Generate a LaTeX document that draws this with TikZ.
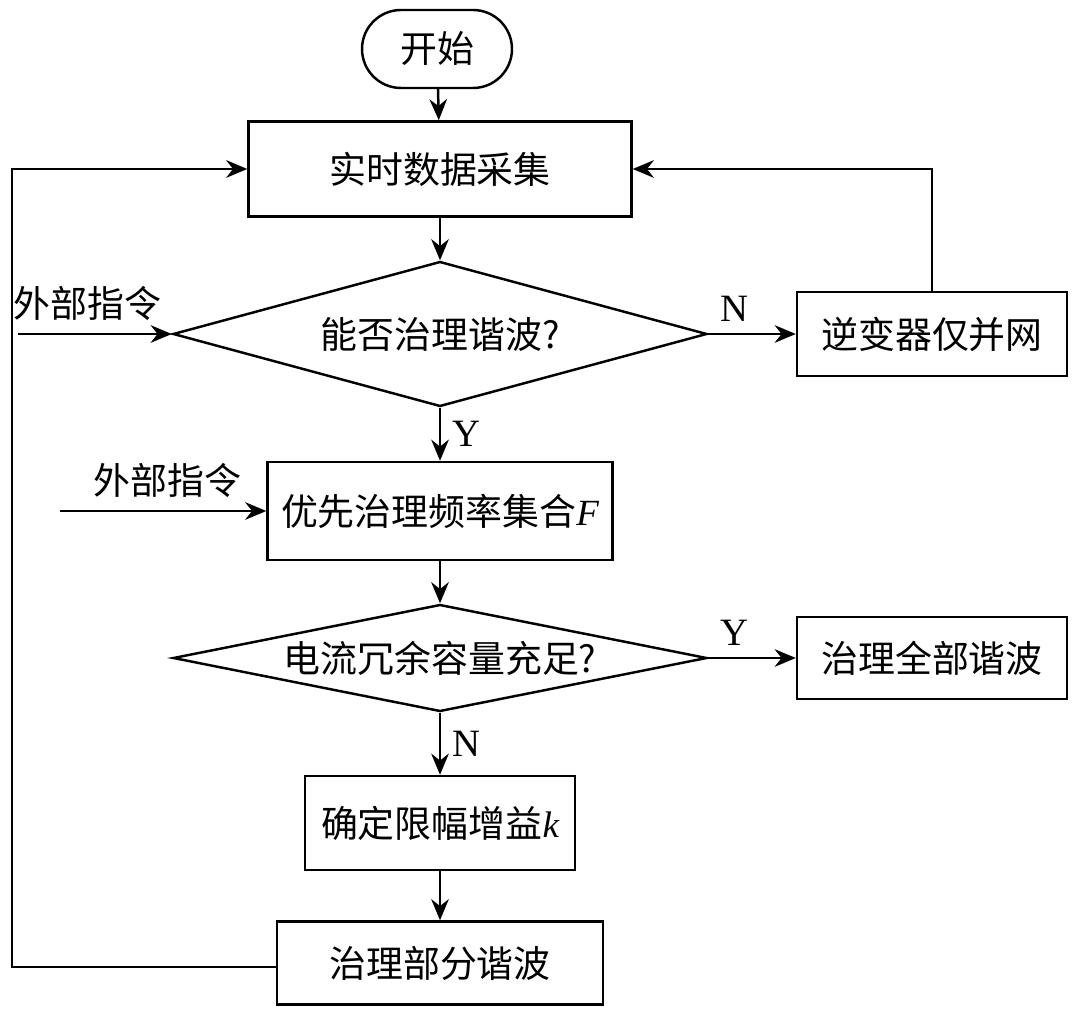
\documentclass[tikz,border=0pt]{standalone}
\usepackage{fontspec}
\setmainfont{Liberation Serif}
\newfontfamily\cjk{Noto Sans CJK SC}
\usetikzlibrary{shapes.geometric,arrows.meta}
\begin{document}
\begin{tikzpicture}[x=0.01cm,y=-0.01cm,
  every node/.style={font=\cjk\fontsize{10.5}{12}\selectfont},
  box/.style={draw,line width=0.7pt,minimum width=#1*0.01cm,inner sep=0pt},
  arr/.style={-{Stealth[length=6pt,width=5pt]},line width=0.7pt},
  ln/.style={line width=0.7pt}]
\useasboundingbox (0,0) rectangle (1080,1013);
\node[box=150,minimum height=78*0.01cm,rounded corners=0.39cm] (s) at (437,49) {开始};
\node[box=383,minimum height=95*0.01cm] (b1) at (440,169) {实时数据采集};
\node[draw,line width=0.7pt,diamond,aspect=3.68,minimum width=534*0.01cm,minimum height=145*0.01cm,inner sep=0pt] (d1) at (440,334) {能否治理谐波?};
\node[box=270,minimum height=84*0.01cm] (r1) at (932,334) {逆变器仅并网};
\node[box=345,minimum height=98*0.01cm] (b2) at (440,511) {优先治理频率集合{\itshape\rmfamily F}};
\node[draw,line width=0.7pt,diamond,aspect=4.99,minimum width=534*0.01cm,minimum height=107*0.01cm,inner sep=0pt] (d2) at (440,658) {电流冗余容量充足?};
\node[box=270,minimum height=82*0.01cm] (r2) at (932,658) {治理全部谐波};
\node[box=270,minimum height=94*0.01cm] (b3) at (440,823) {确定限幅增益{\itshape\rmfamily k}};
\node[box=326,minimum height=83*0.01cm] (b4) at (440,963) {治理部分谐波};
\coordinate (e1) at (18,334);
\coordinate (e2) at (60,511);
\coordinate (cl) at (12,169);
\coordinate (cl2) at (12,967);
\coordinate (cr) at (932,169);
\draw[arr] (s) -- (b1);
\draw[arr] (b1) -- (d1);
\draw[arr] (d1) -- node[right,font=\rmfamily\fontsize{11}{12}\selectfont]{Y} (b2);
\draw[arr] (b2) -- (d2);
\draw[arr] (d2) -- node[right,font=\rmfamily\fontsize{11}{12}\selectfont]{N} (b3);
\draw[arr] (b3) -- (b4);
\draw[arr] (d1) -- node[above,pos=0.3,font=\rmfamily\fontsize{11}{12}\selectfont]{N} (r1);
\draw[arr] (d2) -- node[above,pos=0.3,font=\rmfamily\fontsize{11}{12}\selectfont]{Y} (r2);
\draw[arr] (e1) -- node[above,pos=0.45]{外部指令} (d1.west);
\draw[arr] (e2) -- node[above,pos=0.52]{外部指令} (b2.west);
\draw[arr] (b4.west|-cl2) -- (cl2) -- (cl) -- (b1.west|-cl);
\draw[arr] (r1.north) -- (cr) -- (b1.east|-cr);
\end{tikzpicture}
\end{document}
